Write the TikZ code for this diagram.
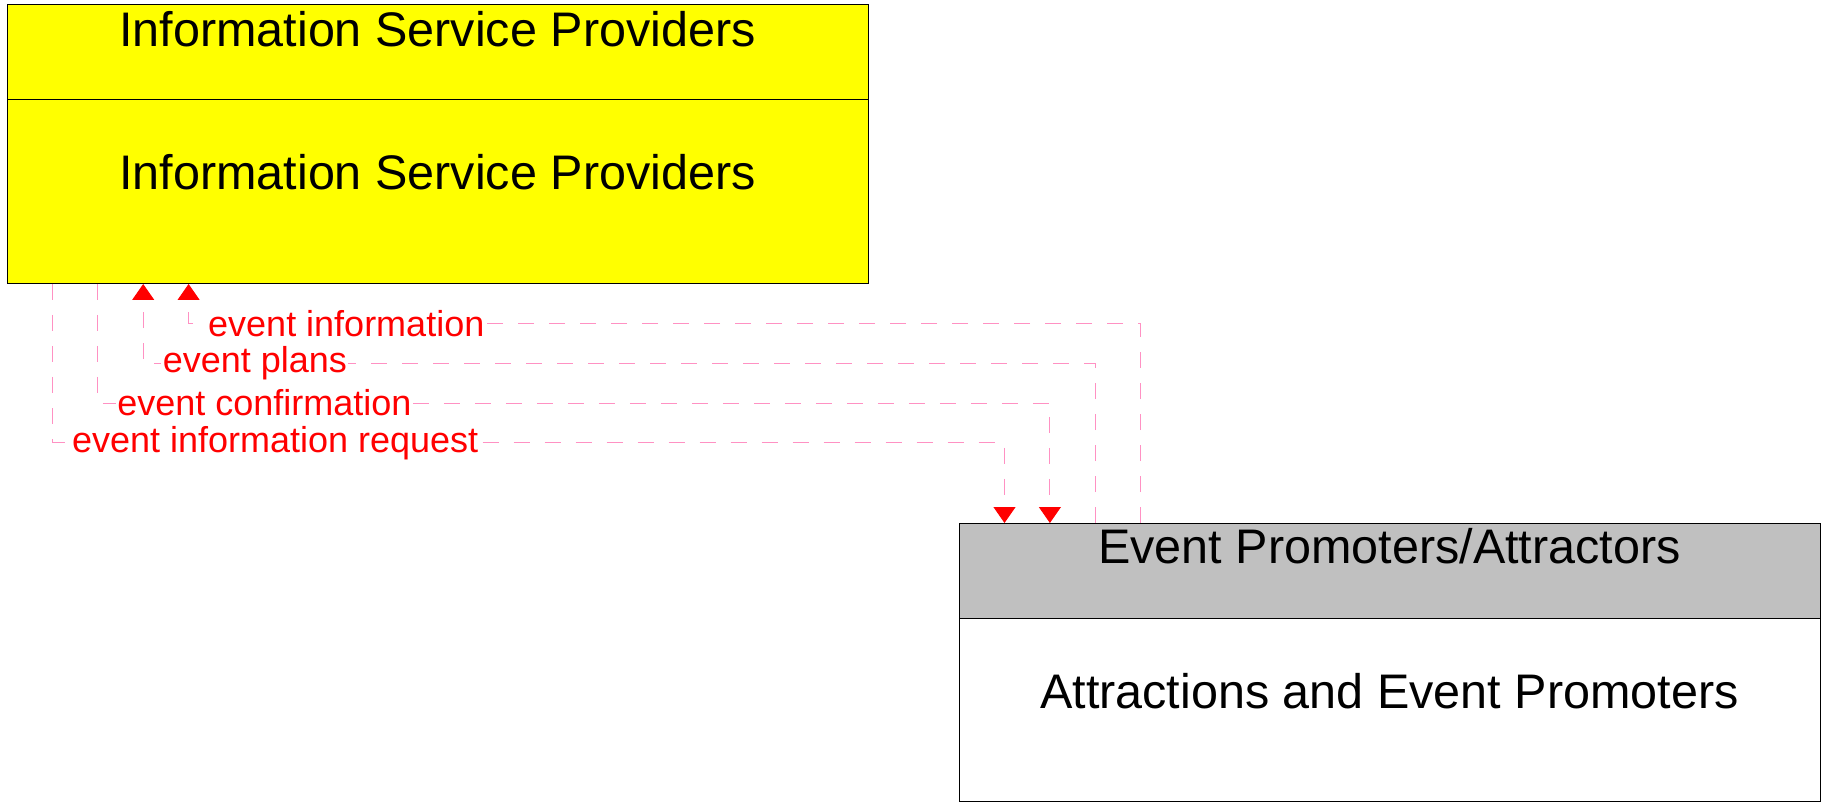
\documentclass[tikz,border=0pt]{standalone}
\usepackage{fontspec}
\setmainfont{Liberation Sans}
\usetikzlibrary{arrows.meta,calc}
\definecolor{flowpink}{RGB}{255,145,195}
\definecolor{hdrgray}{RGB}{192,192,192}
\definecolor{boxyellow}{RGB}{255,255,0}
\begin{document}
\begin{tikzpicture}[x=0.75pt,y=-0.75pt,
  boxpart/.style={draw=black,line width=0.75pt,rectangle,anchor=north west,minimum width=645.75pt,inner sep=0pt},
  titletext/.style={anchor=base,font=\fontsize{36.4pt}{40pt}\selectfont,inner sep=0pt},
  flow/.style={draw=flowpink,line width=0.75pt,dash pattern=on 12pt off 11.25pt},
  tipend/.style={-{Triangle[width=16.5pt,length=12pt,fill=red,color=red]}},
  flowlabel/.style={anchor=west,text=red,fill=white,inner sep=1pt,font=\fontsize{27pt}{30pt}\selectfont}]
\useasboundingbox (0,0) rectangle (1825,802);
% top box
\node[boxpart,fill=boxyellow,minimum height=71.25pt] (isphead) at (7,4) {};
\node[boxpart,fill=boxyellow,minimum height=138pt] (isp) at (7,99) {};
\node[titletext] (isptitle) at (437.5,46.6) {Information Service Providers};
\node[titletext] (ispbody) at (437.5,189.7) {Information Service Providers};
% bottom box
\node[boxpart,fill=hdrgray,minimum height=71.25pt] (epa) at (959,523) {};
\node[boxpart,fill=white,minimum height=137.25pt] (epabody) at (959,618) {};
\node[titletext] (epatitle) at (1389.5,563.4) {Event Promoters/Attractors};
\node[titletext] (epabodytext) at (1389.5,708.9) {Attractions and Event Promoters};
% anchor points
\coordinate (b1) at ($(epa.north west)+(45.5,0)$);
\coordinate (b2) at ($(epa.north west)+(90.9,0)$);
\coordinate (b3) at ($(epa.north west)+(136.3,0)$);
\coordinate (b4) at ($(epa.north west)+(181.6,0)$);
\coordinate (t1) at ($(isp.south west)+(45.4,0)$);
\coordinate (t2) at ($(isp.south west)+(90.8,0)$);
\coordinate (t3) at ($(isp.south west)+(136.2,0)$);
\coordinate (t4) at ($(isp.south west)+(181.6,0)$);
\coordinate (c4) at (188.6,323.6);
\coordinate (c3) at (143.2,363.5);
\coordinate (c2) at (97.8,403.0);
\coordinate (c1) at (52.4,442.8);
% connectors
\draw[flow,tipend] (b4) |- (c4) -- (t4);
\draw[flow,tipend] (b3) |- (c3) -- (t3);
\draw[flow,tipend] (t2) |- (b2 |- c2) -- (b2);
\draw[flow,tipend] (t1) |- (b1 |- c1) -- (b1);
% labels
\node[flowlabel] (l4) at ($(c4)+(18,0)$) {event information};
\node[flowlabel] (l3) at ($(c3)+(18,0)$) {event plans};
\node[flowlabel] (l2) at ($(c2)+(18,0)$) {event confirmation};
\node[flowlabel] (l1) at ($(c1)+(18,0)$) {event information request};
\end{tikzpicture}
\end{document}
